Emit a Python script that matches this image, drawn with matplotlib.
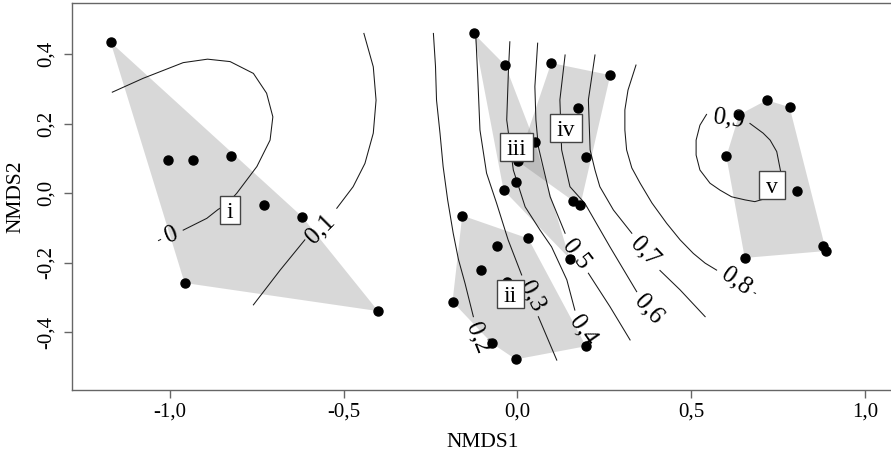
import numpy as np
import matplotlib
matplotlib.use('Agg')
from matplotlib import pyplot as plt
from matplotlib.patches import Rectangle, Polygon

plt.rcParams['font.family'] = ['Liberation Serif', 'DejaVu Serif']

# Puntos de cada grupo (NMDS1, NMDS2)
grupo_i_x = [-1.171, -1.005, -0.933, -0.824, -0.729, -0.620, -0.958, -0.401]
grupo_i_y = [0.435, 0.095, 0.097, 0.108, -0.034, -0.067, -0.258, -0.339]
grupo_ii_x = [-0.159, 0.031, -0.058, -0.106, -0.030, -0.187, -0.073, -0.005, 0.197]
grupo_ii_y = [-0.064, -0.130, -0.153, -0.222, -0.254, -0.312, -0.432, -0.478, -0.440]
grupo_iii_x = [-0.126, -0.035, 0.049, -0.003, -0.040, 0.150]
grupo_iii_y = [0.460, 0.368, 0.149, 0.032, 0.009, -0.188]
grupo_iv_x = [0.097, 0.267, 0.173, 0.196, 0.160, 0.181, 0.001]
grupo_iv_y = [0.375, 0.340, 0.245, 0.105, -0.022, -0.034, 0.092]
grupo_v_x = [0.638, 0.717, 0.783, 0.601, 0.803, 0.654, 0.880, 0.888]
grupo_v_y = [0.226, 0.268, 0.248, 0.106, 0.007, -0.186, -0.152, -0.166]

grupos = ['i', 'ii', 'iii', 'iv', 'v']
etiqueta_x = [-0.827, -0.020, -0.003, 0.139, 0.733]
etiqueta_y = [-0.048, -0.289, 0.134, 0.187, 0.024]

# Curvas de nivel (ordisurf), cortadas donde va la etiqueta
curva_0 = [[(-1.166, 0.291), (-1.077, 0.331), (-0.962, 0.376), (-0.892, 0.386),
            (-0.827, 0.379), (-0.760, 0.345), (-0.722, 0.288), (-0.704, 0.220),
            (-0.712, 0.153), (-0.750, 0.077), (-0.808, 0.000), (-0.839, -0.034),
            (-0.861, -0.046), (-0.894, -0.072), (-0.962, -0.106)],
           [(-1.027, -0.133), (-1.033, -0.136)]]
curva_1 = [[(-0.442, 0.460), (-0.415, 0.364), (-0.407, 0.268), (-0.415, 0.173),
            (-0.439, 0.086), (-0.473, 0.019), (-0.520, -0.043)],
           [(-0.612, -0.134), (-0.683, -0.221), (-0.760, -0.321)]]
curva_2 = [[(-0.242, 0.460), (-0.236, 0.366), (-0.233, 0.268), (-0.223, 0.173),
            (-0.214, 0.077), (-0.201, -0.019), (-0.185, -0.115), (-0.170, -0.190),
            (-0.151, -0.259), (-0.127, -0.355)]]
curva_3 = [[(-0.120, 0.455), (-0.114, 0.326), (-0.108, 0.182), (-0.089, 0.058),
            (-0.060, -0.029), (-0.027, -0.134), (0.012, -0.235)],
           [(0.060, -0.355), (0.113, -0.480)]]
curva_4 = [[(-0.022, 0.436), (-0.026, 0.355), (-0.031, 0.211), (-0.012, 0.067),
            (0.022, -0.039), (0.065, -0.106), (0.098, -0.154), (0.142, -0.249),
            (0.165, -0.336)]]
curva_5 = [[(0.058, 0.432), (0.050, 0.307), (0.053, 0.211), (0.060, 0.134),
            (0.094, -0.010), (0.137, -0.115)],
           [(0.204, -0.230), (0.266, -0.326), (0.324, -0.422)]]
curva_6 = [[(0.137, 0.398), (0.122, 0.269), (0.127, 0.125), (0.151, 0.019),
            (0.194, -0.029), (0.266, -0.154), (0.343, -0.283)]]
curva_7 = [[(0.223, 0.398), (0.204, 0.269), (0.209, 0.125), (0.223, 0.067),
            (0.237, 0.019), (0.276, -0.048), (0.329, -0.115)],
           [(0.410, -0.222), (0.468, -0.278), (0.540, -0.355)]]
curva_8 = [[(0.341, 0.369), (0.318, 0.297), (0.309, 0.240), (0.309, 0.182),
            (0.314, 0.125), (0.329, 0.073), (0.353, 0.029), (0.387, -0.028),
            (0.429, -0.086), (0.468, -0.134), (0.506, -0.173), (0.540, -0.201),
            (0.573, -0.221)],
           [(0.681, -0.286), (0.685, -0.288)]]
curva_9 = [[(0.544, 0.227), (0.525, 0.196), (0.514, 0.153), (0.514, 0.110),
            (0.525, 0.067), (0.554, 0.029), (0.583, 0.009), (0.616, -0.010),
            (0.655, -0.019), (0.683, -0.024), (0.721, -0.013), (0.757, 0.024),
            (0.757, 0.064), (0.746, 0.120), (0.727, 0.153), (0.707, 0.173),
            (0.669, 0.201)]]

niveles = ['0', '0,1', '0,2', '0,3', '0,4', '0,5', '0,6', '0,7', '0,8', '0,9']
nivel_x = [-0.995, -0.568, -0.113, 0.042, 0.188, 0.170, 0.376, 0.367, 0.629, 0.607]
nivel_y = [-0.120, -0.104, -0.417, -0.296, -0.393, -0.175, -0.333, -0.169, -0.252, 0.216]
nivel_rot = [22, 45, -68, -62, -55, -52, -48, -46, -35, -8]

xticks = [-1.0, -0.5, 0.0, 0.5, 1.0]
xtick_labels = ['-1,0', '-0,5', '0,0', '0,5', '1,0']
yticks = [-0.4, -0.2, 0.0, 0.2, 0.4]
ytick_labels = ['-0,4', '-0,2', '0,0', '0,2', '0,4']


def envolvente(xs, ys):
    # casco convexo (cadena monotona)
    pts = sorted(set(zip(xs, ys)))

    def cruz(o, a, b):
        return (a[0]-o[0])*(b[1]-o[1]) - (a[1]-o[1])*(b[0]-o[0])
    inf, sup = [], []
    for p in pts:
        while len(inf) >= 2 and cruz(inf[-2], inf[-1], p) <= 0:
            inf.pop()
        inf.append(p)
    for p in reversed(pts):
        while len(sup) >= 2 and cruz(sup[-2], sup[-1], p) <= 0:
            sup.pop()
        sup.append(p)
    return inf[:-1] + sup[:-1]


fig = plt.figure(figsize=(8.91, 4.55), dpi=100)
ax = fig.add_axes([72/891, 1-390/455, (893-72)/891, 387/455])
ax.set_xlim(-1.282, 1.0806)
ax.set_ylim(-0.566, 0.5476)

puntos = [(grupo_i_x, grupo_i_y), (grupo_ii_x, grupo_ii_y), (grupo_iii_x, grupo_iii_y),
          (grupo_iv_x, grupo_iv_y), (grupo_v_x, grupo_v_y)]

# Cascos
for gx, gy in puntos:
    ax.add_patch(Polygon(envolvente(gx, gy), closed=True, facecolor='#808080',
                         alpha=0.3, edgecolor='none', zorder=1))

# Curvas de nivel
for curva in [curva_0, curva_1, curva_2, curva_3, curva_4,
              curva_5, curva_6, curva_7, curva_8, curva_9]:
    for seg in curva:
        seg = np.array(seg)
        ax.plot(seg[:, 0], seg[:, 1], color='#1a1a1a', lw=0.75, zorder=2)

# Puntos
for gx, gy in puntos:
    ax.plot(gx, gy, 'o', color='black', ms=6.5, zorder=3)

# Etiquetas de nivel
for txt, x, y, r in zip(niveles, nivel_x, nivel_y, nivel_rot):
    ax.text(x, y, txt, fontsize=18, rotation=r, ha='center', va='center',
            rotation_mode='anchor', zorder=4)

# Etiquetas de grupo con recuadro
textos = []
for txt, x, y in zip(grupos, etiqueta_x, etiqueta_y):
    t = ax.annotate(txt, (x, y), xytext=(0, -5.8), textcoords='offset points',
                    fontsize=17, ha='center', va='baseline', zorder=6)
    textos.append((t, x, y))

ax.set_xticks(xticks)
ax.set_xticklabels(xtick_labels)
ax.set_yticks(yticks)
ax.set_yticklabels(ytick_labels, rotation=90, va='center')
ax.tick_params(direction='out', length=6, width=1, color='#666666',
               labelsize=15)
ax.tick_params(axis='x', pad=3)
ax.tick_params(axis='y', pad=6)
for s in ax.spines.values():
    s.set_color('#666666')
    s.set_linewidth(1)
ax.set_xlabel('NMDS1', fontsize=15.5, labelpad=8)
ax.set_ylabel('NMDS2', fontsize=15.5, labelpad=8)

fig.canvas.draw()
rend = fig.canvas.get_renderer()
inv = ax.transData.inverted()
for t, x, y in textos:
    bb = t.get_window_extent(rend)
    X, Y = ax.transData.transform((x, y))
    w = bb.width + 14
    h = 28
    (x0, y0) = inv.transform((X - w/2, Y - h/2))
    (x1, y1) = inv.transform((X + w/2, Y + h/2))
    ax.add_patch(Rectangle((x0, y0), x1-x0, y1-y0, facecolor='white',
                           edgecolor='#444444', lw=1, zorder=5))

fig.savefig('out.png', dpi=100)
